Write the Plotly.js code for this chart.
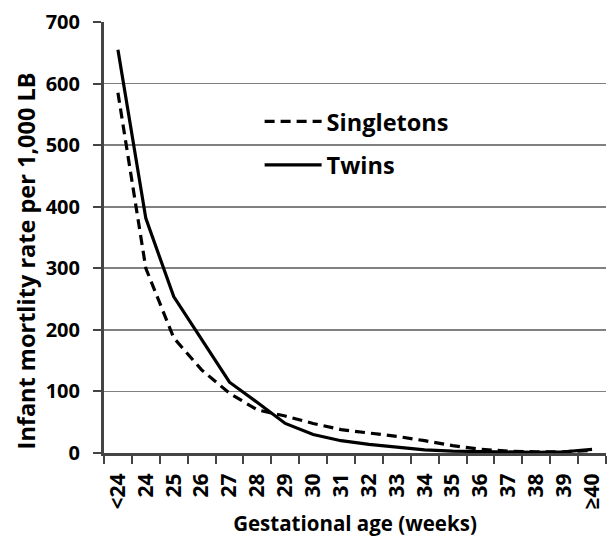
<!DOCTYPE html>
<html><head><meta charset="utf-8">
<script src="https://cdn.plot.ly/plotly-3.0.1.min.js"></script>
<style>html,body{margin:0;padding:0;background:#fff}#c{width:608px;height:541px}</style>
</head><body><div id="c"></div>
<script>
const categories = ["<24","24","25","26","27","28","29","30","31","32","33","34","35","36","37","38","39","≥40"];
const singletons = [585,300,187,135,97,70,60,48,38,33,27,20,12,6,3,2,2,4];
const twins = [655,381,254,185,115,82,48,30,20,14,9,5,3,2,1,1,2,6];
const xTitle = "Gestational age (weeks)";
const yTitle = "Infant mortlity rate per 1,000 LB";

const F = "'Open Sans', 'Liberation Sans', sans-serif";
const data = [
  {x: categories, y: singletons, type: "scatter", mode: "lines", name: "Singletons", legendgroup: "a",
   line: {color: "#000", width: 3.2, dash: "10px,6px"}},
  {x: categories, y: twins, type: "scatter", mode: "lines", name: "Twins", legendgroup: "b",
   line: {color: "#000", width: 3.2}}
];
const layout = {
  width: 608, height: 541,
  margin: {l: 104, r: 2, t: 22, b: 88},
  paper_bgcolor: "#fff", plot_bgcolor: "#fff",
  font: {family: F, color: "#000"},
  showlegend: true,
  legend: {x: 0.31, y: 0.82, xanchor: "left", yanchor: "top", bgcolor: "rgba(0,0,0,0)",
           traceorder: "grouped", tracegroupgap: 10, itemwidth: 57,
           font: {size: 23.5, family: F, weight: 700}},
  xaxis: {type: "category", range: [-0.5, 17.5], tickson: "boundaries",
          ticks: "outside", ticklen: 8, tickcolor: "#444", tickwidth: 2,
          ticklabelstandoff: 9,
          showline: true, linecolor: "#444", linewidth: 3, showgrid: false,
          tickangle: -90, tickfont: {size: 21, family: F, weight: 700},
          title: {text: xTitle, font: {size: 20.5, family: F, weight: 700}, standoff: 9}},
  yaxis: {range: [0, 700], dtick: 100, ticks: "outside", ticklen: 8, tickcolor: "#444", tickwidth: 2,
          ticklabelstandoff: 9,
          showline: true, linecolor: "#444", linewidth: 3,
          showgrid: true, gridcolor: "#808080", gridwidth: 1.6, zeroline: false,
          tickfont: {size: 20, family: F, weight: 700}},
  annotations: [
    {text: yTitle, xref: "paper", yref: "paper", x: -0.155, y: 0.445, xanchor: "center", yanchor: "middle",
     textangle: -90, showarrow: false, font: {size: 23.5, family: F, weight: 700, color: "#000"}}
  ]
};
Plotly.newPlot("c", data, layout, {displayModeBar: false, staticPlot: true});
</script></body></html>
